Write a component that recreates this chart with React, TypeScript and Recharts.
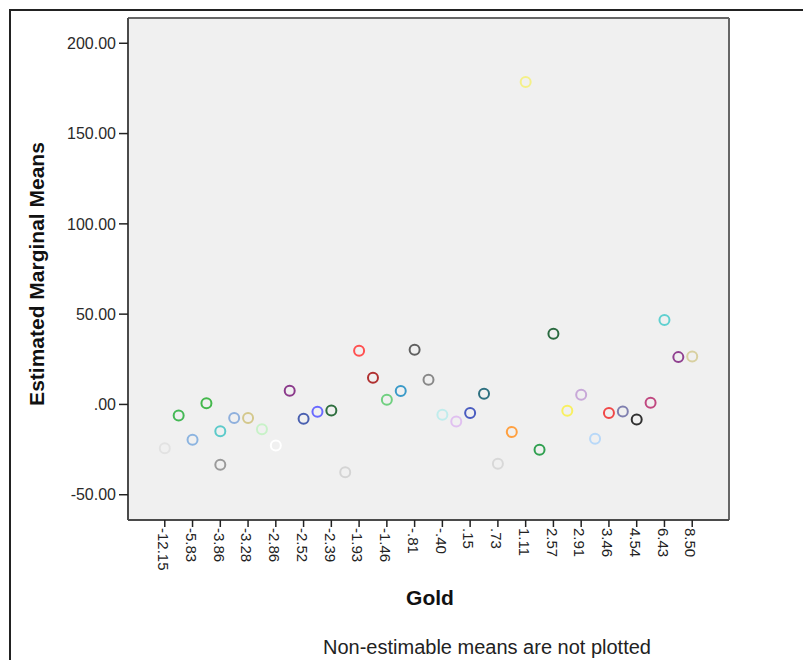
import React from "react";
import { ScatterChart, Scatter, XAxis, YAxis, CartesianGrid, ReferenceLine } from "recharts";

// tick labels for the Gold factor (only every other level is labelled)
const goldLabels = [
  "-12.15", "-5.83", "-3.86", "-3.28", "-2.86", "-2.52", "-2.39", "-1.93", "-1.46", "-.81",
  "-.40", ".15", ".73", "1.11", "2.57", "2.91", "3.46", "4.54", "6.43", "8.50",
];
const goldTicks = goldLabels.map((_, i) => i * 2);

// level index of each plotted mean
const pointLevel = [
  0, 1, 2, 3, 4, 4, 5, 6, 7, 8, 9, 10, 11, 12, 13, 14, 15, 16, 17, 18,
  19, 20, 21, 22, 23, 24, 25, 26, 27, 28, 29, 30, 31, 32, 33, 34, 35, 36, 37, 38,
];

// estimated marginal means
const means = [
  -24.3, -6.1, -19.5, 0.6, -14.9, -33.4, -7.5, -7.5, -13.8, -22.7,
  7.6, -7.9, -4.0, -3.3, -37.6, 29.7, 14.8, 2.6, 7.4, 30.3,
  13.7, -5.7, -9.4, -4.8, 5.9, -32.8, -15.3, 178.6, -25.1, 39.1,
  -3.5, 5.4, -19.0, -4.8, -3.9, -8.3, 0.9, 46.8, 26.2, 26.5,
];

const pointColors = [
  "#e2e2e2", "#44b855", "#8cb4e0", "#44b84c", "#5ccaca", "#9a9a9a", "#8fb0dd", "#d4c88c", "#c8f2c8", "#ffffff",
  "#8b3a8b", "#4a60b0", "#6a6aff", "#2e6e3e", "#d4d4d4", "#ff5050", "#b03030", "#70d080", "#3a9ac8", "#606060",
  "#888888", "#c0ecec", "#e0c0f0", "#4a5cc0", "#2e7080", "#d8d8d8", "#ffa040", "#f4f088", "#30a050", "#2a6a40",
  "#f8f060", "#c8a8d8", "#b8d8f8", "#f04848", "#8080b0", "#303030", "#c04880", "#60d0d0", "#904090", "#d8d0a0",
];

const yTicks = [-50, 0, 50, 100, 150, 200];
const xDomain = [-2.65, 40.65];
const yDomain = [-64, 214];

const FONT = '"Liberation Sans", Arial, sans-serif';

const fmtY = (v: number) => v.toFixed(2).replace(/^(-?)0\./, "$1.");

const data = means.map((m, k) => ({ gold: pointLevel[k], mean: m, color: pointColors[k] }));

function GoldTick(props: any) {
  const { x, y, payload } = props;
  const label = goldLabels[Math.round(payload.value / 2)] ?? "";
  return (
    <text
      x={x}
      y={y}
      dy="0.45em"
      transform={`rotate(90, ${x}, ${y})`}
      textAnchor="start"
      fontSize={15}
      fontFamily={FONT}
      fill="#222"
    >
      {label}
    </text>
  );
}

function MeanTick(props: any) {
  const { x, y, payload } = props;
  return (
    <text x={x} y={y} dy="0.36em" textAnchor="end" fontSize={16} fontFamily={FONT} fill="#2a2a2a">
      {fmtY(payload.value)}
    </text>
  );
}

function Ring(props: any) {
  const { cx, cy, payload } = props;
  if (cx == null || cy == null) return null;
  return <circle cx={cx} cy={cy} r={5} fill="none" stroke={payload.color} strokeWidth={2} />;
}

export default function App() {
  return (
    <div style={{ position: "absolute", left: 0, top: 0, width: 803, height: 660, background: "#fff", overflow: "hidden" }}>
      <div
        style={{
          position: "absolute",
          left: 9,
          top: 9,
          width: 800,
          height: 660,
          borderTop: "2px solid #222",
          borderLeft: "2px solid #222",
        }}
      />
      <div style={{ position: "absolute", left: 0, top: 0 }}>
        <ScatterChart width={803} height={660} margin={{ top: 18, right: 74, bottom: 80, left: 68 }}>
          <CartesianGrid fill="#f0f0f0" stroke="none" horizontal={false} vertical={false} />
          <XAxis
            type="number"
            dataKey="gold"
            domain={xDomain}
            ticks={goldTicks}
            interval={0}
            height={60}
            tickSize={7}
            tickMargin={1}
            tick={<GoldTick />}
            axisLine={{ stroke: "#4a4a4a", strokeWidth: 2 }}
            tickLine={{ stroke: "#222", strokeWidth: 1.5 }}
            label={{
              content: () => (
                <g fontFamily={FONT}>
                  <text x={430} y={605} textAnchor="middle" fontSize={21} fontWeight="bold" fill="#111">
                    Gold
                  </text>
                  <text x={487} y={654} textAnchor="middle" fontSize={20} fill="#222">
                    Non-estimable means are not plotted
                  </text>
                </g>
              ),
            }}
          />
          <YAxis
            type="number"
            dataKey="mean"
            domain={yDomain}
            ticks={yTicks}
            interval={0}
            width={60}
            tickSize={9}
            tickMargin={3}
            tick={<MeanTick />}
            axisLine={{ stroke: "#4a4a4a", strokeWidth: 2 }}
            tickLine={{ stroke: "#222", strokeWidth: 1.5 }}
            label={{
              content: () => (
                <text
                  x={44}
                  y={274}
                  transform="rotate(-90, 44, 274)"
                  textAnchor="middle"
                  fontSize={21}
                  fontWeight="bold"
                  fontFamily={FONT}
                  fill="#111"
                >
                  Estimated Marginal Means
                </text>
              ),
            }}
          />
          {/* top and right edges of the plot frame */}
          <ReferenceLine y={yDomain[1]} stroke="#666" strokeWidth={2} />
          <ReferenceLine x={xDomain[1]} stroke="#666" strokeWidth={2} />
          <Scatter data={data} shape={<Ring />} isAnimationActive={false} />
        </ScatterChart>
      </div>
    </div>
  );
}
